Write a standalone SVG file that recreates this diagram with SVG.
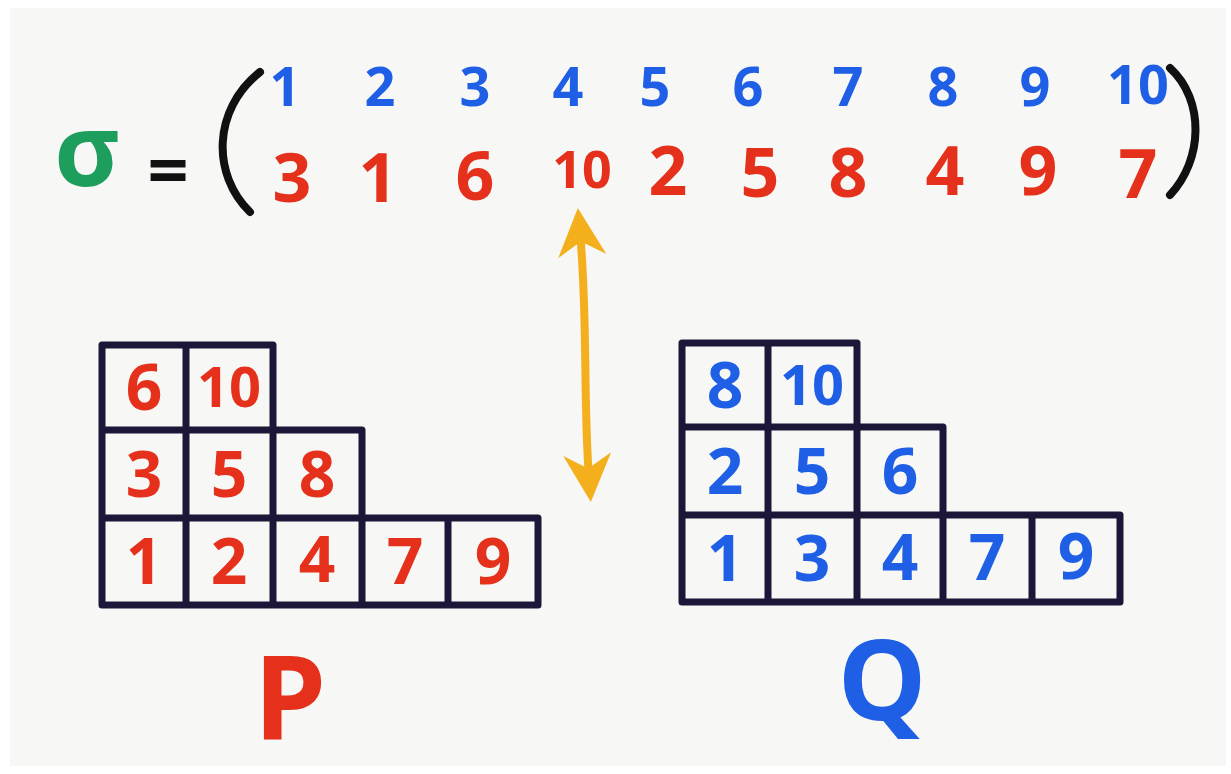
<svg xmlns="http://www.w3.org/2000/svg" width="1231" height="774" viewBox="0 0 1231 774">
<style>
.blue{fill:#1f5fe6;}
.red{fill:#e5311c;}
.t{font-family:"Open Sans","Liberation Sans",sans-serif;font-weight:700;text-anchor:middle;}
.top{font-size:54px;}
.bot{font-size:68px;}
.bot10{font-size:52px;}
.cell{font-size:64px;}
.cell10{font-size:56px;}
.grid{fill:none;stroke:#1c1638;stroke-width:7;stroke-linecap:round;stroke-linejoin:round;}
</style>
<defs>
<marker id="ah" viewBox="0 0 10 10" refX="5" refY="5" markerWidth="6" markerHeight="6" orient="auto-start-reverse" markerUnits="strokeWidth">
<path d="M0,0 L10,5 L0,10 L3,5 Z" fill="#f4b01c"/>
</marker>
</defs>
<rect x="0" y="0" width="1231" height="774" fill="#ffffff"/>
<rect x="10" y="8" width="1216" height="758" fill="#f7f7f5"/>

<g id="sigma-def">
<text class="t" x="87" y="186" font-size="100" fill="#1e9e5c">σ</text>
<text class="t" x="168" y="196" font-size="72" fill="#111">=</text>
<path d="M260,72 C212,110 212,175 250,212" fill="none" stroke="#111" stroke-width="8" stroke-linecap="round"/>
<path d="M1170,68 C1205,100 1203,160 1170,195" fill="none" stroke="#111" stroke-width="8" stroke-linecap="round"/>
</g>

<g id="top-row" class="t top blue">
<text x="285" y="106">1</text>
<text x="380" y="106">2</text>
<text x="475" y="106">3</text>
<text x="568" y="106">4</text>
<text x="655" y="106">5</text>
<text x="748" y="106">6</text>
<text x="848" y="106">7</text>
<text x="943" y="106">8</text>
<text x="1035" y="106">9</text>
<text x="1138" y="104">10</text>
</g>

<g id="bottom-row" class="t red">
<text class="bot" x="292" y="202">3</text>
<text class="bot" x="378" y="202">1</text>
<text class="bot" x="475" y="200">6</text>
<text class="bot10" x="582" y="188">10</text>
<text class="bot" x="668" y="195">2</text>
<text class="bot" x="760" y="197">5</text>
<text class="bot" x="848" y="197">8</text>
<text class="bot" x="945" y="195">4</text>
<text class="bot" x="1038" y="195">9</text>
<text class="bot" x="1138" y="198">7</text>
</g>

<g id="connectors">
<path d="M580,232 C588,320 583,400 589,478" fill="none" stroke="#f4b01c" stroke-width="8" stroke-linecap="round" marker-start="url(#ah)" marker-end="url(#ah)"/>
</g>

<g id="tableau-P">
<path class="grid" d="M102,605 L102,345 L273,345 L273,605 M102,430 L362,430 L362,605 M102,518 L538,518 L538,605 M102,605 L538,605 M186,345 L186,605 M448,518 L448,605"/>
<g class="t red">
<text class="cell" x="144" y="410">6</text>
<text class="cell10" x="229" y="407">10</text>
<text class="cell" x="144" y="497">3</text>
<text class="cell" x="229" y="497">5</text>
<text class="cell" x="317" y="497">8</text>
<text class="cell" x="144" y="584">1</text>
<text class="cell" x="229" y="584">2</text>
<text class="cell" x="317" y="582">4</text>
<text class="cell" x="405" y="584">7</text>
<text class="cell" x="493" y="584">9</text>
</g>
<text class="t red" x="290" y="740" font-size="116" font-weight="600">P</text>
</g>

<g id="tableau-Q">
<path class="grid" d="M682,602 L682,343 L857,343 L857,602 M682,427 L943,427 L943,602 M682,515 L1120,515 L1120,602 M682,602 L1120,602 M768,343 L768,602 M1032,515 L1032,602"/>
<g class="t blue">
<text class="cell" x="725" y="408">8</text>
<text class="cell10" x="812" y="405">10</text>
<text class="cell" x="725" y="494">2</text>
<text class="cell" x="812" y="494">5</text>
<text class="cell" x="900" y="494">6</text>
<text class="cell" x="725" y="581">1</text>
<text class="cell" x="812" y="581">3</text>
<text class="cell" x="900" y="580">4</text>
<text class="cell" x="987" y="580">7</text>
<text class="cell" x="1076" y="579">9</text>
</g>
<text class="t blue" x="882" y="720" font-size="112" font-weight="600">Q</text>
</g>
</svg>
